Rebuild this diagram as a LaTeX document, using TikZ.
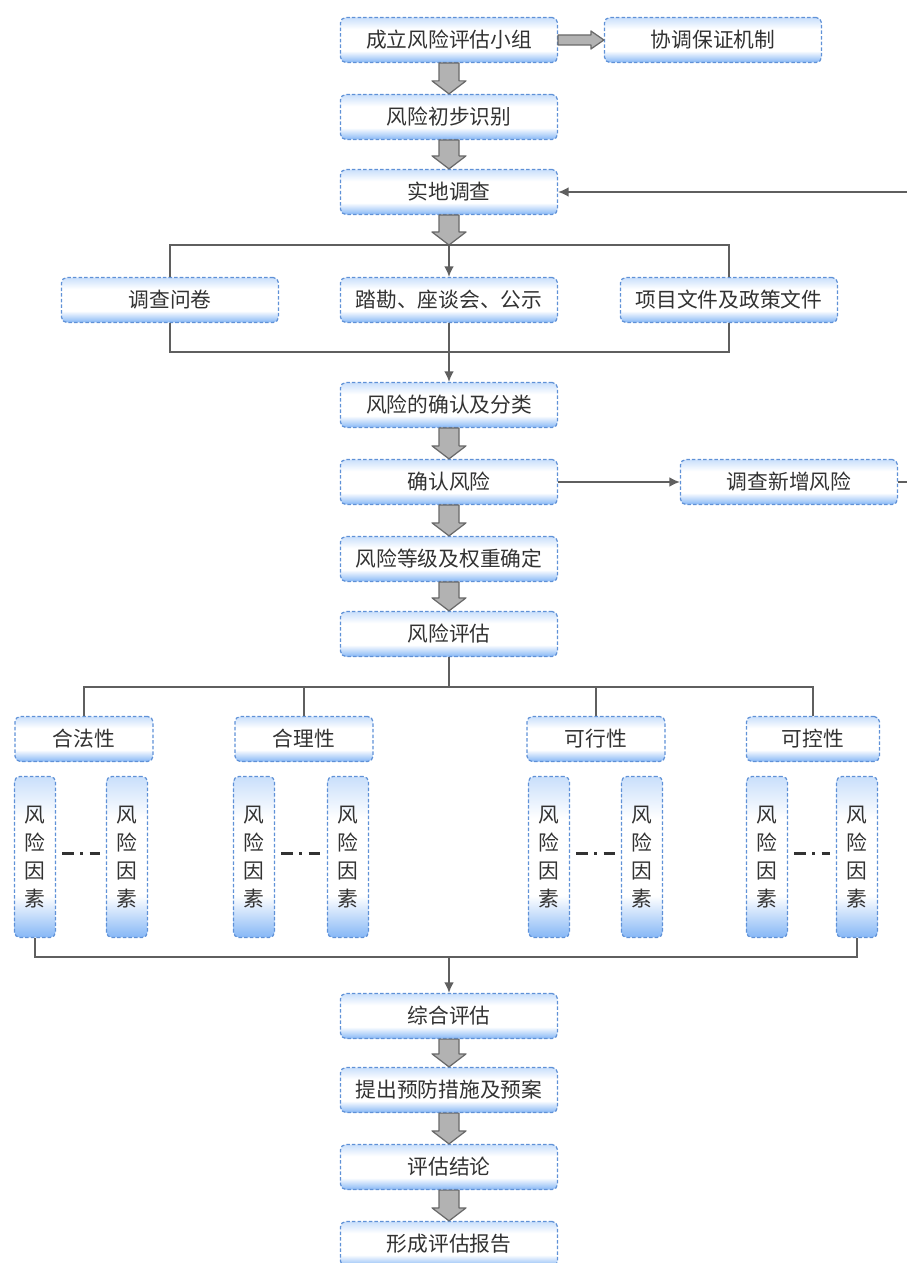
\documentclass[tikz,border=0pt]{standalone}
\usepackage{fontspec}
\newfontfamily\cjk{Noto Sans CJK SC}
\usepackage{xcolor}
\usepackage{tikz}
\usetikzlibrary{shapes,arrows.meta,positioning,calc}

\definecolor{boxblue}{RGB}{120,175,245}
\definecolor{boxline}{RGB}{95,145,215}
\definecolor{textgray}{RGB}{50,50,50}
\definecolor{linegray}{RGB}{95,95,95}
\definecolor{fatfill}{RGB}{178,178,178}
\definecolor{fatline}{RGB}{105,105,105}

% white band in the middle, blue at the lower edge
\pgfdeclareverticalshading{boxshade}{100bp}{color(0bp)=(boxblue); color(25bp)=(boxblue!90);
  color(38bp)=(white); color(62bp)=(white); color(75bp)=(boxblue!40); color(100bp)=(boxblue!40)}

% fat grey arrows between stages
\newcommand{\fatdown}[2]{%
  \draw[fatarrow] ($(#1)+(-10,0)$) -- ($(#2)+(-10,13)$) -- ($(#2)+(-17,13)$) -- (#2)
    -- ($(#2)+(17,13)$) -- ($(#2)+(10,13)$) -- ($(#1)+(10,0)$) -- cycle;}
\newcommand{\fatright}[2]{%
  \draw[fatarrow] ($(#1)+(0,5)$) -- ($(#2)+(-13,5)$) -- ($(#2)+(-13,9)$) -- (#2)
    -- ($(#2)+(-13,-9)$) -- ($(#2)+(-13,-5)$) -- ($(#1)+(0,-5)$) -- cycle;}

\begin{document}
\begin{tikzpicture}[
    x=0.02cm, y=0.02cm,
    box/.style={rectangle, rounded corners=3pt, draw=boxline, line width=0.7pt, dash pattern=on 2pt off 1.2pt,
        shading=boxshade, text=textgray,
        inner sep=0pt, minimum width=4.34cm, minimum height=0.9cm, font=\cjk\fontsize{11.8}{13}\selectfont},
    category/.style={box, minimum width=2.76cm},
    factor/.style={box, minimum width=0.82cm, minimum height=3.22cm, align=center,
        font=\cjk\fontsize{11.8}{16}\selectfont},
    link/.style={draw=linegray, line width=0.9pt},
    tip/.style={-{Latex[length=6pt,width=5.5pt]}},
    fatarrow/.style={fill=fatfill, draw=fatline, line width=0.7pt, line join=round},
    dashdot/.style={draw=textgray, line width=1.7pt, dash pattern=on 6.8pt off 3.6pt on 1.6pt off 3.6pt}
]
\useasboundingbox (0,0) rectangle (906,-1263);

% Preparation
\node[box] (group) at (449,-40) {成立风险评估小组};
\node[box] (coord) at (713,-40) {协调保证机制};
\node[box] (ident) at (449,-117) {风险初步识别};
\node[box] (survey) at (449,-192) {实地调查};

% Survey methods
\coordinate (split1) at (449,-245);
\node[box] (quest) at (170,-300) {调查问卷};
\node[box] (visit) at (449,-300) {踏勘、座谈会、公示};
\node[box] (docs) at (729,-300) {项目文件及政策文件};
\coordinate (merge1) at (449,-352);

% Risk identification
\node[box] (classify) at (449,-405) {风险的确认及分类};
\node[box] (confirm) at (449,-482) {确认风险};
\node[box] (newrisk) at (789,-482) {调查新增风险};
\node[box] (grade) at (449,-559) {风险等级及权重确定};
\node[box] (assess) at (449,-634) {风险评估};

% Evaluation aspects
\coordinate (split2) at (449,-687);
\node[category] (legal) at (84,-739) {合法性};
\node[category] (reason) at (304,-739) {合理性};
\node[category] (feasible) at (596,-739) {可行性};
\node[category, minimum width=2.66cm] (control) at (813,-739) {可控性};

\foreach \x/\n in {35/f1, 127/f2, 254/f3, 348/f4, 549/f5, 642/f6, 767/f7, 857/f8}
    \node[factor] (\n) at (\x,-857) {风\\险\\因\\素};
\foreach \a/\b in {f1/f2, f3/f4, f5/f6, f7/f8}
    \draw[dashdot] ($(\a.east)+(6,4)$) -- ($(\b.west)+(-6,4)$);
\coordinate (merge2) at (449,-957);

% Conclusion
\node[box] (summary) at (449,-1016) {综合评估};
\node[box] (measures) at (449,-1090) {提出预防措施及预案};
\node[box] (conclusion) at (449,-1167) {评估结论};
\node[box] (report) at (449,-1244) {形成评估报告};

% Fat arrows
\fatright{group.east}{coord.west}
\fatdown{group.south}{ident.north}
\fatdown{ident.south}{survey.north}
\fatdown{survey.south}{split1}
\fatdown{classify.south}{confirm.north}
\fatdown{confirm.south}{grade.north}
\fatdown{grade.south}{assess.north}
\fatdown{summary.south}{measures.north}
\fatdown{measures.south}{conclusion.north}
\fatdown{conclusion.south}{report.north}

% Connectors
\draw[link] (quest.north) -- (quest.north |- split1) -- (docs.north |- split1) -- (docs.north);
\draw[link, tip] (split1) -- (visit.north);
\draw[link] (quest.south) -- (quest.south |- merge1) -- (docs.south |- merge1) -- (docs.south);
\draw[link, tip] (visit.south) -- (classify.north);
\draw[link, tip] (confirm.east) -- (newrisk.west);
\draw[link, tip] (newrisk.east) -- ++(16,0) |- (survey.east);

\draw[link] (assess.south) -- (split2);
\draw[link] (legal.north) -- (legal.north |- split2) -- (control.north |- split2) -- (control.north);
\draw[link] (reason.north) -- (reason.north |- split2);
\draw[link] (feasible.north) -- (feasible.north |- split2);
\draw[link] (f1.south) -- (f1.south |- merge2) -- (f8.south |- merge2) -- (f8.south);
\draw[link, tip] (merge2) -- (summary.north);

\end{tikzpicture}
\end{document}
